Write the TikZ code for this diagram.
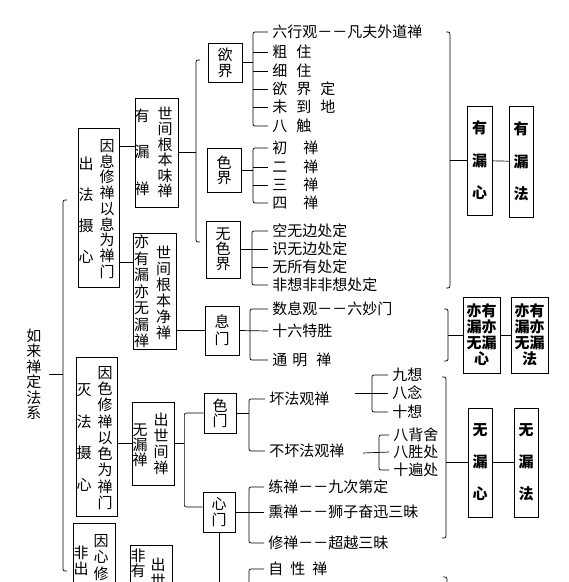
\documentclass[tikz,border=0pt]{standalone}
\usepackage{fontspec}
\newfontfamily\cjk{Noto Sans CJK SC}
\usetikzlibrary{positioning}
\newcommand\vfont[1]{\cjk\fontsize{15}{#1}\selectfont}

\begin{document}
\begin{tikzpicture}[
  x=1pt, y=-1pt, line width=0.7pt,
  box/.style={draw, inner sep=0pt},
  col/.style={align=center, inner sep=0pt, font=\vfont{#1}},
  col/.default=16,
  item/.style={anchor=west, inner xsep=4pt, inner ysep=0pt, font=\vfont{15}},
  heavy/.style={align=center, inner sep=0pt, font=\vfont{#1}\bfseries},
  brk/.style={rounded corners=2pt},
]
\path[use as bounding box, clip] (0,0) rectangle (569,582);

% root
\node[col=15.5] (root) at (34,374) {如\\来\\禅\\定\\法\\系};
\coordinate (s-root) at (63,374);
\draw[brk] (67,200) -| (s-root) |- (67,571);
\draw ([xshift=7pt]root.east) -- (s-root);

% first level
\node[box, minimum width=41pt, minimum height=159pt] (b1) at (98.5,207.5) {};
\node[col=31] (b1a) at (86,210) {出\\法\\摄\\心};
\node[col=15.75] (b1b) at (107,209) {因\\息\\修\\禅\\以\\息\\为\\禅\\门};
\node[box, minimum width=41pt, minimum height=159pt] (b2) at (96.5,436.5) {};
\node[col=31.7] (b2a) at (84,437.5) {灭\\法\\摄\\心};
\node[col=16.25] (b2b) at (105,438) {因\\色\\修\\禅\\以\\色\\为\\禅\\门};
\node[box, minimum width=42pt, minimum height=159pt] (b3) at (94,602.5) {};
\node[col=16] (b3a) at (81,561) {非\\出};
\node[col=16.5] (b3b) at (101,557.5) {因\\心\\修};

% second level
\node[box, minimum width=43pt, minimum height=109pt] (yl) at (156.5,152.5) {};
\node[col=36.5] (yl-a) at (142,152) {有\\漏\\禅};
\node[col=15.5] (yl-b) at (165,152.5) {世\\间\\根\\本\\味\\禅};
\node[box, minimum width=43pt, minimum height=116pt] (yw) at (154.5,291) {};
\node[col=16.5] (yw-a) at (141.5,291.5) {亦\\有\\漏\\亦\\无\\漏\\禅};
\node[col=16] (yw-b) at (163.5,293) {世\\间\\根\\本\\净\\禅};
\node[box, minimum width=42pt, minimum height=83pt] (cs) at (153,443.5) {};
\node[col=15] (cs-a) at (140,445) {无\\漏\\禅};
\node[col=16] (cs-b) at (161,444) {出\\世\\间\\禅};
\node[box, minimum width=42pt, minimum height=83pt] (fy) at (151,586.5) {};
\node[col=15] (fy-a) at (138,563.5) {非\\有};
\node[col=16] (fy-b) at (158,572) {出\\世};

\draw ([yshift=6pt]yl.west -| b1.east) -- ([yshift=6pt]yl.west);
\draw ([yshift=29pt]yw.west -| b1.east) -- ([yshift=29pt]yw.west);
\draw (cs.west -| b2.east) -- (cs.west);

% third level
\node[box, col=16, minimum width=34pt, minimum height=39pt] (yj) at (225,62.5) {欲\\界};
\node[box, col=15, minimum width=34pt, minimum height=44pt] (sj) at (224,170) {色\\界};
\node[box, col=15, minimum width=34pt, minimum height=57pt] (wsj) at (223,249.5) {无\\色\\界};
\node[box, col=17, minimum width=34pt, minimum height=49pt] (xm) at (222,330.5) {息\\门};
\node[box, col=15, minimum width=32pt, minimum height=40pt] (sm) at (220,413) {色\\门};
\node[box, col=16, minimum width=32pt, minimum height=40pt] (xinm) at (219,512) {心\\门};

\coordinate (s0) at (196,0);
\draw[brk] (200,60) -| (s0 |- yl.east) |- (200,242);
\draw (yl.east) -- (yl.east -| s0);
\draw (yw.east |- xm.west) -- (xm.west);
\draw (cs.east) -- ([xshift=10pt]cs.east);
\draw[brk] (sm.west) -| ([xshift=10pt]cs.east) |- ([yshift=5pt]xinm.west);

% items of 欲界
\coordinate (s1) at (253,0);
\node[item] (y1) at (268,32) {六行观－－凡夫外道禅};
\node[item] (y2) at (268,52) {粗\hspace{9pt}住};
\node[item] (y3) at (268,71) {细\hspace{9pt}住};
\node[item] (y4) at (268,89) {欲\hspace{9pt}界\hspace{9pt}定};
\node[item] (y5) at (268,107) {未\hspace{9pt}到\hspace{9pt}地};
\node[item] (y6) at (268,126) {八\hspace{9pt}触};
\draw[brk] (y1.west) -| (s1 |- yj.east) |- (y6.west);
\foreach \n in {y2,y3,y4,y5} \draw (\n.west -| s1) -- (\n.west);
\draw (yj.east) -- (yj.east -| s1);

% items of 色界
\node[item] (c1) at (268,148) {初\hspace{16pt}禅};
\node[item] (c2) at (268,167) {二\hspace{16pt}禅};
\node[item] (c3) at (268,185) {三\hspace{16pt}禅};
\node[item] (c4) at (268,203) {四\hspace{16pt}禅};
\draw[brk] (c1.west) -| (s1 |- sj.east) |- (c4.west);
\foreach \n in {c2,c3} \draw (\n.west -| s1) -- (\n.west);
\draw (sj.east) -- (sj.east -| s1);

% items of 无色界
\coordinate (s2) at (252,0);
\node[item] (w1) at (268,231) {空无边处定};
\node[item] (w2) at (268,249) {识无边处定};
\node[item] (w3) at (268,267) {无所有处定};
\node[item] (w4) at (268,285) {非想非非想处定};
\draw[brk] (w1.west) -| (s2 |- wsj.east) |- (w4.west);
\foreach \n in {w2,w3} \draw (\n.west -| s2) -- (\n.west);
\draw (wsj.east) -- (wsj.east -| s2);

% items of 息门
\coordinate (s3) at (250,0);
\node[item] (x1) at (268,309) {数息观－－六妙门};
\node[item] (x2) at (268,331) {十六特胜};
\node[item] (x3) at (268,360) {通\hspace{5pt}明\hspace{9pt}禅};
\draw[brk] (x1.west) -| (s3 |- x2.west) |- (x3.west);
\draw (xm.east) -- (x2.west);

% items of 色门
\coordinate (s4) at (249,0);
\node[item] (hf) at (265,399) {坏法观禅};
\node[item] (bf) at (265,451) {不坏法观禅};
\draw[brk] (hf.west) -| (s4 |- sm.east) |- (bf.west);
\draw (sm.east) -- (sm.east -| s4);

\coordinate (hf-e) at (355,393);
\coordinate (s5) at (372,0);
\node[item] (k1) at (388,375) {九想};
\node[item] (k2) at (388,393) {八念};
\node[item] (k3) at (388,412) {十想};
\draw[brk] (k1.west) -| (s5 |- k2.west) |- (k3.west);
\draw (hf-e) -- (k2.west);

\coordinate (bf-e) at (363,453);
\coordinate (s6) at (379,0);
\node[item] (m1) at (389,435) {八背舍};
\node[item] (m2) at (389,452) {八胜处};
\node[item] (m3) at (389,470) {十遍处};
\draw[brk] (m1.west) -| (s6 |- m2.west) |- (m3.west);
\draw (bf-e) -- (m2.west);

% items of 心门
\node[item] (n1) at (264,487) {练禅－－九次第定};
\node[item] (n2) at (264,512) {熏禅－－狮子奋迅三昧};
\node[item] (n3) at (264,543) {修禅－－超越三昧};
\draw[brk] (n1.west) -| (s4 |- n2.west) |- (n3.west);
\draw (xinm.east) -- (n2.west);

\coordinate (s7) at (249,600);
\node[item] (zx) at (264,569) {自\hspace{7pt}性\hspace{7pt}禅};
\draw[brk] (zx.west) -| (s7);
\draw (xinm.south) -- (xinm.south |- s7);

% right side
\node[box, heavy=32.5, minimum width=25pt, minimum height=109pt] (yx) at (479.5,160.5) {有\\漏\\心};
\node[box, heavy=32.5, minimum width=24pt, minimum height=111pt] (yf) at (521,161.5) {有\\漏\\法};
\node[box, heavy=16, minimum width=37pt, minimum height=76pt] (yyx) at (481.5,335) {亦有\\漏亦\\无漏\\心};
\node[box, heavy=16, minimum width=37pt, minimum height=76pt] (yyf) at (529.5,335) {亦有\\漏亦\\无漏\\法};
\node[box, heavy=32, minimum width=24pt, minimum height=109pt] (wx) at (480,462.5) {无\\漏\\心};
\node[box, heavy=32, minimum width=24pt, minimum height=109pt] (wf) at (526,462.5) {无\\漏\\法};

\coordinate (r1) at (450,0);
\coordinate (r2) at (448,0);
\coordinate (r3) at (446,0);
\draw[brk] (446,32) -| (r1 |- yx.west) |- (446,288);
\draw[brk] (444,309) -| (r2 |- yyx.west) |- (444,361);
\draw[brk] (442,377) -| (r3 |- wx.west) |- (442,538);
\draw[brk] (443,577) -| (447,600);
\draw (yx.west -| r1) -- (yx.west);
\draw (yyx.west -| r2) -- (yyx.west);
\draw (wx.west -| r3) -- (wx.west);
\draw (yx) -- (yf);
\draw (yyx) -- (yyf);
\draw (wx) -- (wf);
\end{tikzpicture}
\end{document}
